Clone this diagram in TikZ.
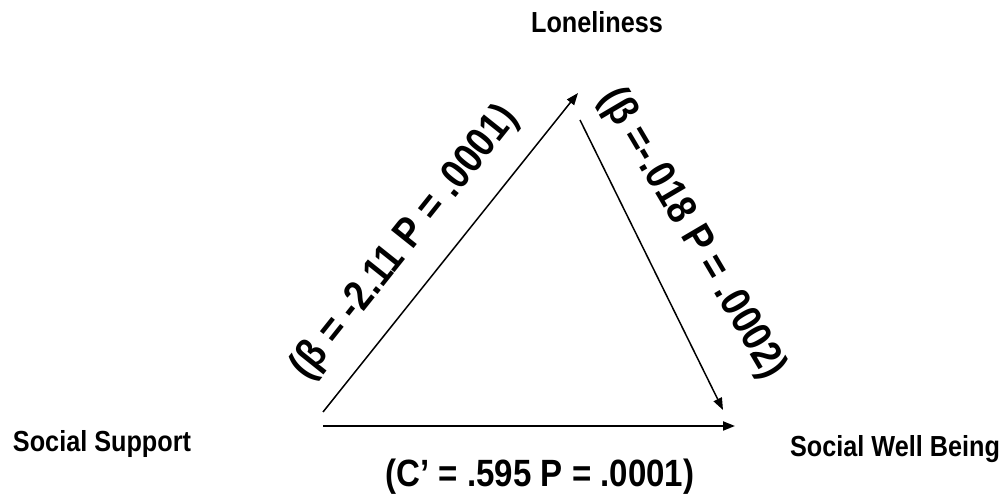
\documentclass[tikz,border=0pt]{standalone}
\usepackage{fontspec}
\setmainfont{Liberation Sans}[FakeStretch=0.87]
\usetikzlibrary{arrows.meta}
\tikzset{
  varlabel/.style={font=\bfseries\fontsize{29}{34}\selectfont, inner sep=0pt, anchor=base},
  pathlabel/.style={font=\bfseries\fontsize{38}{44}\selectfont, inner sep=0pt},
  slantlabel/.style={font=\bfseries\fontsize{42}{48}\selectfont, inner sep=0pt},
  path arrow/.style={line width=1.5pt, -{Triangle[length=12pt,width=9pt]}}
}
\begin{document}
\begin{tikzpicture}[x=1pt,y=1pt]
\useasboundingbox (0,0) rectangle (1007,497);
\node[varlabel] (L) at (597,464) {Loneliness};
\node[varlabel] (S) at (102,45) {Social Support};
\node[varlabel] (W) at (895,40) {Social Well Being};
\coordinate (a1s) at (323,85);
\coordinate (a1e) at (578,404);
\coordinate (a2s) at (580,377);
\coordinate (a2e) at (723,87);
\coordinate (a3s) at (323,71);
\coordinate (a3e) at (735,71);
\draw[path arrow] (a1s) -- (a1e);
\draw[path arrow] (a2s) -- (a2e);
\draw[path arrow, line width=2pt] (a3s) -- (a3e);
\node[slantlabel, rotate=51.4] (l1) at (405,254) {(β = -2.11 P = .0001)};
\node[slantlabel, rotate=-59.5] (l2) at (692,263) {(β =-.018 P = .0002)};
\node[pathlabel, anchor=base] (l3) at (540,10) {(C’ = .595 P = .0001)};
\end{tikzpicture}
\end{document}
